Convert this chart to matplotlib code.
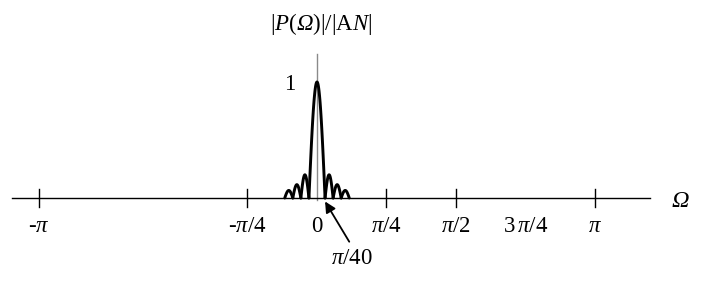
import matplotlib
matplotlib.use('Agg')
import matplotlib.pyplot as plt
import numpy as np

plt.rcParams['font.family'] = 'Liberation Serif'
plt.rcParams['mathtext.fontset'] = 'custom'
plt.rcParams['mathtext.rm'] = 'Liberation Serif'
plt.rcParams['mathtext.it'] = 'Liberation Serif:italic'
plt.rcParams['mathtext.sf'] = 'Liberation Serif:italic'  # used for an italic capital Omega

# lobe edges (zeros) in units of pi, and lobe peak heights
lobe_zeros = [-0.116, -0.087, -0.058, -0.029, 0.029, 0.058, 0.087, 0.116]
lobe_peaks = [0.065, 0.115, 0.2, 1.0, 0.2, 0.115, 0.065]

tick_pos = [-1, -0.25, 0.25, 0.5, 1]
label_pos = [-1, -0.25, 0, 0.25, 0.5, 0.75, 1]
label_txt = [r'-$\pi$', r'-$\pi$/4', '0', r'$\pi$/4', r'$\pi$/2', r'3$\,\pi$/4', r'$\pi$']

fig = plt.figure(figsize=(7.06, 2.82), dpi=100)
ax = fig.add_axes([0, 0, 1, 1])
ax.set_xlim(-317 / 278, 389 / 278)
ax.set_ylim(-84 / 116, 198 / 116)
ax.axis('off')

fs = 16.5

# vertical axis (thin gray)
ax.plot([0, 0], [-0.02, 1.24], color='#8a8a8a', lw=1.0, zorder=1)

# horizontal axis
ax.plot([-1.097, 1.198], [0, 0], color='k', lw=1.0, zorder=2)
for t in tick_pos:
    ax.plot([t, t], [-0.078, 0.078], color='k', lw=1.0, zorder=2)

# the lobes
for i in range(len(lobe_peaks)):
    a, b = lobe_zeros[i], lobe_zeros[i + 1]
    xs = np.linspace(a, b, 60)
    ys = lobe_peaks[i] * np.sin(np.pi * (xs - a) / (b - a))
    ax.plot(xs, ys, color='k', lw=2.1, solid_capstyle='round', zorder=3)

for p, s in zip(label_pos, label_txt):
    ax.text(p, -0.25, s, ha='center', va='center', fontsize=fs)

ax.text(1.306, -0.03, '\u03a9', style='italic', ha='center', va='center', fontsize=fs + 1)
ax.text(-0.097, 0.98, '1', ha='center', va='center', fontsize=fs)
ax.text(0.014, 1.5, r'$|P(\mathsf{\Omega})|/|\mathrm{A}N|$', ha='center', va='center', fontsize=fs)

ax.text(0.125, -0.52, r'$\pi$/40', ha='center', va='center', fontsize=fs)
ax.annotate('', xy=(0.029, -0.03), xytext=(0.116, -0.377),
            arrowprops=dict(arrowstyle='-|>', color='k', lw=1.3,
                            mutation_scale=16, shrinkA=0, shrinkB=0))

plt.savefig('out.png', dpi=100)
